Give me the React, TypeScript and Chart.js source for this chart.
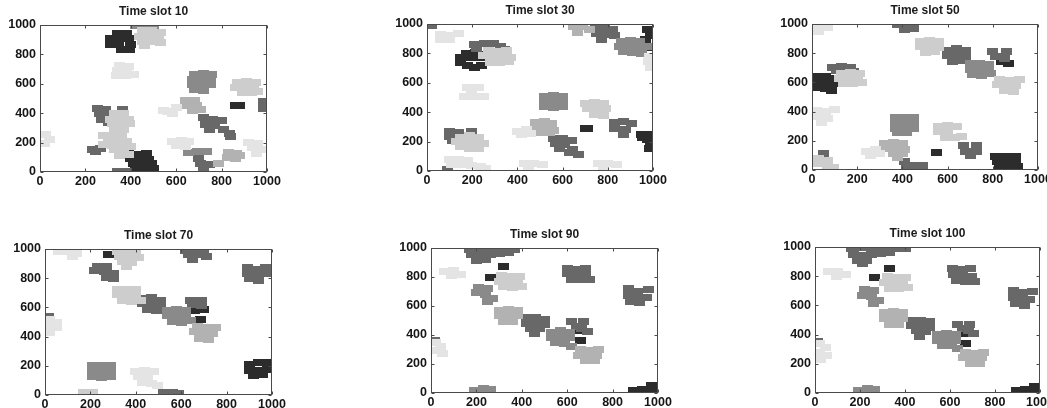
import { useEffect, useRef } from 'react';
import { Chart, registerables } from 'chart.js';

Chart.register(...registerables);

type Pts = [number, number][];

// ---- tick labels & titles ----
const axisTicks = [0, 200, 400, 600, 800, 1000];
const slotTitles = ['Time slot 10', 'Time slot 30', 'Time slot 50', 'Time slot 70', 'Time slot 90', 'Time slot 100'];

// ---- Time slot 10 ----
const slot10VeryLight: Pts = [[350,725],[390,720],[340,690],[380,685],[335,655],[375,655],[410,665],[560,410],[600,440],[585,400],[545,420],[25,255],[40,220],[20,195],[585,210],[625,215],[655,205],[600,180],[640,175],[920,200],[960,195],[935,165],[975,155],[955,125]];
const slot10Light: Pts = [[450,960],[490,965],[530,950],[440,925],[480,920],[520,915],[450,890],[490,885],[530,880],[460,860],[870,612],[910,615],[950,610],[860,578],[900,575],[940,565],[890,540],[930,540],[960,545],[330,395],[370,400],[310,360],[350,365],[390,360],[320,330],[360,325],[395,330],[330,295],[370,290],[280,245],[320,245],[360,240],[300,215],[340,210],[380,210],[280,185],[320,180],[360,180],[400,175],[330,150],[370,145],[350,115],[390,120]];
const slot10MidLight: Pts = [[640,485],[680,488],[650,455],[690,455],[670,420],[705,425],[785,60],[830,135],[865,125],[825,100],[860,95],[880,110]];
const slot10Mid: Pts = [[680,665],[720,670],[755,665],[670,630],[710,630],[750,630],[670,595],[710,590],[750,595],[680,560],[720,555],[420,995],[460,995],[500,990],[655,135],[695,140],[735,138]];
const slot10MidDark: Pts = [[985,480],[985,435],[720,370],[760,358],[800,350],[730,325],[770,315],[745,290],[810,290],[835,262],[840,240],[255,430],[290,425],[365,425],[260,395],[285,380],[270,360],[300,340],[230,150],[265,160],[245,140],[700,90],[705,55],[745,50],[720,15],[340,5],[380,5]];
const slot10Dark: Pts = [[340,940],[380,945],[310,905],[350,905],[390,905],[310,870],[345,870],[400,870],[360,832],[395,835],[862,450],[878,450],[390,125],[430,120],[470,125],[400,90],[440,90],[480,88],[410,57],[450,55],[490,57],[420,22],[465,25],[500,25]];

// ---- Time slot 30 ----
const slot30VeryLight: Pts = [[60,930],[100,925],[140,935],[60,895],[100,893],[180,570],[230,570],[195,540],[165,510],[210,505],[250,505],[985,780],[980,745],[990,705],[400,270],[440,280],[420,250],[460,258],[100,80],[140,80],[180,72],[110,45],[150,42],[195,35],[235,30],[260,20],[430,50],[470,52],[510,42],[450,22],[760,50],[800,52],[840,42],[780,22]];
const slot30Light: Pts = [[270,820],[310,812],[350,820],[250,785],[290,775],[330,775],[370,775],[280,740],[320,735],[360,745],[700,460],[740,465],[780,460],[710,425],[750,415],[790,425],[740,385],[780,380],[150,230],[190,240],[230,230],[130,200],[170,200],[210,195],[250,190],[150,165],[190,155],[230,155]];
const slot30MidLight: Pts = [[650,980],[690,980],[720,965],[665,945],[480,330],[520,340],[550,325],[490,295],[530,290],[560,275],[500,265],[540,260]];
const slot30Mid: Pts = [[860,880],[900,890],[940,880],[850,850],[890,845],[930,840],[970,850],[870,810],[910,805],[950,800],[520,510],[560,515],[600,510],[520,475],[560,470],[600,475],[520,440],[560,435],[600,440]];
const slot30MidDark: Pts = [[20,990],[210,860],[255,870],[295,865],[325,850],[220,830],[345,825],[745,970],[785,978],[820,960],[750,935],[790,930],[830,920],[770,895],[830,330],[870,340],[905,325],[830,290],[880,280],[870,250],[560,220],[600,222],[640,210],[570,185],[610,182],[585,150],[645,145],[670,115],[630,125],[100,270],[140,260],[195,272],[100,235],[115,205],[90,10]];
const slot30Dark: Pts = [[175,800],[215,805],[245,795],[150,770],[190,770],[235,770],[150,735],[180,720],[210,705],[240,715],[975,960],[990,920],[965,895],[990,840],[700,290],[712,290],[950,250],[985,245],[955,230],[975,215],[990,180],[985,150]];

// ---- Time slot 50 ----
const slot50VeryLight: Pts = [[30,975],[70,975],[30,950],[20,410],[60,400],[100,412],[30,365],[70,355],[40,325],[240,130],[280,140],[300,110],[260,100]];
const slot50Light: Pts = [[480,880],[520,890],[560,880],[480,845],[520,840],[560,840],[500,805],[540,810],[830,620],[870,612],[920,620],[820,585],[860,580],[900,582],[850,545],[890,535],[130,660],[170,670],[210,660],[120,630],[160,630],[200,622],[140,595],[180,590],[220,600],[560,300],[600,302],[640,300],[560,265],[600,262],[590,225],[630,222],[660,232],[30,80],[70,62],[30,45],[70,25],[95,15]];
const slot50MidLight: Pts = [[320,180],[360,185],[400,180],[330,150],[370,150],[410,140],[360,115],[400,110],[380,85]];
const slot50Mid: Pts = [[700,730],[740,730],[780,720],[700,690],[740,690],[780,690],[710,655],[750,650],[790,660],[370,360],[410,362],[450,360],[370,320],[410,320],[450,320],[370,285],[410,280],[450,285],[380,255],[420,255]];
const slot50MidDark: Pts = [[380,995],[420,990],[450,970],[410,962],[600,820],[640,830],[680,820],[600,785],[640,790],[680,780],[620,745],[660,750],[800,810],[860,810],[810,775],[850,765],[90,700],[130,712],[170,705],[110,680],[185,672],[410,60],[420,30],[460,32],[490,30],[440,10],[670,170],[730,170],[680,130],[730,130],[700,100],[50,110]];
const slot50Dark: Pts = [[840,740],[870,730],[20,640],[60,640],[100,630],[20,600],[60,600],[100,590],[20,565],[60,555],[85,545],[550,120],[810,90],[850,92],[900,90],[820,60],[860,60],[900,62],[830,28],[880,25],[910,22]];

// ---- Time slot 70 ----
const slot70VeryLight: Pts = [[60,980],[100,985],[140,970],[120,950],[20,520],[50,500],[20,470],[50,462],[20,425],[400,160],[440,165],[480,160],[410,130],[450,122],[430,85],[470,80],[495,62]];
const slot70Light: Pts = [[320,980],[360,990],[400,980],[330,950],[370,952],[410,940],[340,915],[380,910],[360,880],[320,720],[360,725],[400,720],[320,685],[360,680],[400,680],[340,645],[380,640],[420,645],[170,15],[210,20]];
const slot70MidLight: Pts = [[670,470],[710,460],[750,465],[660,432],[700,425],[740,420],[680,385],[720,380]];
const slot70Mid: Pts = [[540,580],[580,585],[620,578],[540,545],[580,540],[620,540],[560,505],[600,500],[640,510],[210,200],[250,205],[290,200],[210,165],[250,160],[290,160],[210,125],[250,120],[290,125]];
const slot70MidDark: Pts = [[230,880],[270,880],[220,850],[260,845],[300,830],[270,805],[300,795],[620,990],[660,995],[700,990],[630,960],[670,960],[710,950],[650,925],[890,870],[930,860],[970,870],[890,830],[930,822],[970,830],[900,795],[940,785],[430,660],[470,665],[510,650],[430,625],[470,620],[510,612],[450,585],[490,580],[640,650],[690,650],[650,620],[690,610],[15,540],[520,15],[560,15],[590,10]];
const slot70Dark: Pts = [[280,960],[660,580],[700,585],[685,520],[900,210],[940,220],[980,225],[900,170],[940,170],[980,172],[920,135],[960,140],[990,190]];

// ---- Time slot 90 ----
const slot90VeryLight: Pts = [[60,840],[100,845],[130,820],[90,812],[20,350],[40,322],[20,290],[50,272]];
const slot90Light: Pts = [[310,810],[350,805],[390,805],[300,772],[340,770],[380,762],[320,732],[360,730],[400,735]];
const slot90MidLight: Pts = [[300,570],[340,575],[380,570],[300,532],[340,530],[380,532],[320,492],[360,490],[660,300],[700,290],[740,300],[650,262],[690,260],[730,262],[680,222],[720,222]];
const slot90Mid: Pts = [[210,730],[250,722],[200,690],[240,682],[270,652],[250,630],[530,420],[570,430],[610,420],[530,382],[570,380],[610,382],[550,345],[590,342],[620,322],[190,20],[230,30],[260,25]];
const slot90MidDark: Pts = [[170,990],[210,995],[250,995],[290,990],[330,995],[370,990],[180,955],[220,950],[260,955],[300,962],[340,972],[200,915],[240,920],[600,860],[640,855],[680,860],[600,822],[640,820],[680,810],[620,785],[660,780],[700,780],[870,720],[910,700],[960,712],[870,675],[910,662],[950,660],[880,632],[920,622],[420,520],[460,520],[500,510],[420,482],[460,480],[500,472],[440,445],[480,442],[455,410],[620,490],[670,492],[640,462],[690,425],[665,445],[15,360]];
const slot90Dark: Pts = [[320,870],[260,800],[660,360],[650,430],[890,15],[930,25],[970,50],[995,45],[960,15],[920,10],[990,15]];

// ---- Time slot 100 ----
const slot100VeryLight: Pts = [[60,830],[100,835],[135,810],[95,800],[20,340],[45,310],[20,275],[50,255],[25,230]];
const slot100Light: Pts = [[320,795],[360,790],[400,790],[310,757],[350,755],[390,747],[330,717],[370,715],[410,720]];
const slot100MidLight: Pts = [[310,550],[350,555],[390,550],[310,512],[350,510],[390,512],[330,472],[370,470],[670,280],[710,270],[750,280],[660,242],[700,240],[740,242],[690,202],[730,200]];
const slot100Mid: Pts = [[220,710],[260,702],[210,670],[250,662],[280,632],[260,610],[545,400],[585,410],[625,400],[545,362],[585,360],[625,362],[565,325],[605,322],[635,302],[195,18],[235,28],[265,22]];
const slot100MidDark: Pts = [[160,990],[200,995],[240,998],[280,992],[320,995],[360,990],[400,992],[170,950],[210,945],[250,950],[290,958],[330,965],[190,905],[230,910],[210,888],[610,850],[650,845],[690,850],[615,810],[655,810],[695,800],[630,770],[670,765],[710,765],[880,700],[920,685],[965,695],[880,655],[920,645],[955,640],[890,610],[930,600],[430,500],[470,500],[510,490],[430,462],[470,460],[510,452],[450,425],[490,420],[465,390],[635,470],[685,472],[655,440],[705,405],[680,425],[10,350]];
const slot100Dark: Pts = [[330,850],[265,790],[670,340],[665,410],[895,15],[935,22],[975,45],[995,40],[965,12],[925,8],[990,12]];

// ---- grouping (very light -> dark) ----
const slotGroups: Pts[][] = [
  [slot10VeryLight, slot10Light, slot10MidLight, slot10Mid, slot10MidDark, slot10Dark],
  [slot30VeryLight, slot30Light, slot30MidLight, slot30Mid, slot30MidDark, slot30Dark],
  [slot50VeryLight, slot50Light, slot50MidLight, slot50Mid, slot50MidDark, slot50Dark],
  [slot70VeryLight, slot70Light, slot70MidLight, slot70Mid, slot70MidDark, slot70Dark],
  [slot90VeryLight, slot90Light, slot90MidLight, slot90Mid, slot90MidDark, slot90Dark],
  [slot100VeryLight, slot100Light, slot100MidLight, slot100Mid, slot100MidDark, slot100Dark],
];

const SHADES = ['#e4e4e4', '#cdcdcd', '#b2b2b2', '#8a8a8a', '#686868', '#2c2c2c'];

// layout of each panel's canvas in page pixels
const panelBoxes = [
  { left: 2, top: 3, w: 281, h: 189 },
  { left: 389, top: 2, w: 280, h: 189 },
  { left: 774, top: 2, w: 280, h: 188 },
  { left: 7, top: 227, w: 281, h: 188 },
  { left: 393, top: 226, w: 281, h: 187 },
  { left: 777, top: 225, w: 279, h: 188 },
];

const FONT_FAMILY = '"Liberation Sans", Arial, Helvetica, sans-serif';

function makeMarker(color: string): HTMLCanvasElement {
  const c = document.createElement('canvas');
  c.width = 11;
  c.height = 7;
  const g = c.getContext('2d')!;
  g.fillStyle = color;
  g.fillRect(0, 0, 11, 7);
  return c;
}

const framePlugin = {
  id: 'frame',
  afterDatasetsDraw(chart: any) {
    const { ctx, chartArea: a, scales } = chart;
    ctx.save();
    ctx.strokeStyle = '#4a4a4a';
    ctx.lineWidth = 1;
    const l = Math.round(a.left) + 0.5;
    const r = Math.round(a.right) - 0.5;
    const t = Math.round(a.top) + 0.5;
    const b = Math.round(a.bottom) - 0.5;
    ctx.strokeRect(l, t, r - l, b - t);
    ctx.beginPath();
    for (const v of axisTicks) {
      const x = Math.round(scales.x.getPixelForValue(v)) + 0.5;
      ctx.moveTo(x, b); ctx.lineTo(x, b - 3);
      ctx.moveTo(x, t); ctx.lineTo(x, t + 3);
      const y = Math.round(scales.y.getPixelForValue(v)) + 0.5;
      ctx.moveTo(l, y); ctx.lineTo(l + 3, y);
      ctx.moveTo(r, y); ctx.lineTo(r - 3, y);
    }
    ctx.stroke();
    ctx.restore();
  },
};

function Panel({ idx }: { idx: number }) {
  const ref = useRef<HTMLCanvasElement>(null);
  useEffect(() => {
    const markers = SHADES.map(makeMarker);
    const tickFont = { family: FONT_FAMILY, size: 12.5, weight: 'bold' as const };
    const fmt = (v: any) => String(v);
    const chart = new Chart(ref.current!, {
      type: 'scatter',
      data: {
        datasets: slotGroups[idx].map((pts, i) => ({
          data: pts.map(([x, y]) => ({ x, y })),
          pointStyle: markers[i] as any,
          pointRadius: 3,
          pointHoverRadius: 3,
          clip: 0,
          showLine: false,
        })),
      },
      options: {
        responsive: false,
        animation: false,
        devicePixelRatio: 1,
        events: [],
        layout: { padding: { left: 0, right: 16, top: 0, bottom: 0 } },
        plugins: {
          legend: { display: false },
          tooltip: { enabled: false },
          title: {
            display: true,
            text: slotTitles[idx],
            fullSize: false,
            color: '#1c1c1c',
            font: { family: FONT_FAMILY, size: 12, weight: 'bold', lineHeight: 1.25 },
            padding: { top: 1, bottom: 6 },
          },
        },
        scales: {
          x: {
            type: 'linear',
            min: 0,
            max: 1000,
            afterBuildTicks: (s: any) => { s.ticks = axisTicks.map((v) => ({ value: v })); },
            afterFit: (s: any) => { s.height = 20; },
            grid: { display: false, drawTicks: false },
            border: { display: false },
            ticks: { font: tickFont, color: '#151515', padding: 2, maxRotation: 0, autoSkip: false, callback: fmt },
          },
          y: {
            type: 'linear',
            min: 0,
            max: 1000,
            afterBuildTicks: (s: any) => { s.ticks = axisTicks.map((v) => ({ value: v })); },
            afterFit: (s: any) => { s.width = 38; },
            grid: { display: false, drawTicks: false },
            border: { display: false },
            ticks: { font: tickFont, color: '#151515', padding: 4, autoSkip: false, callback: fmt },
          },
        },
      },
      plugins: [framePlugin],
    });
    return () => chart.destroy();
  }, [idx]);
  const b = panelBoxes[idx];
  return (
    <canvas
      ref={ref}
      width={b.w}
      height={b.h}
      style={{ position: 'absolute', left: b.left, top: b.top, width: b.w, height: b.h }}
    />
  );
}

export default function App() {
  return (
    <div style={{ position: 'fixed', left: 0, top: 0, width: 1047, height: 408, overflow: 'hidden', background: '#fff' }}>
      {slotTitles.map((_, i) => (
        <Panel key={i} idx={i} />
      ))}
    </div>
  );
}
